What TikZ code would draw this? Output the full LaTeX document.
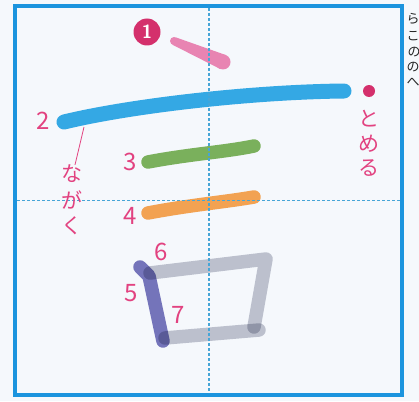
\documentclass[tikz,border=0pt]{standalone}
\usepackage{fontspec}
\newfontfamily\jp{Noto Sans CJK JP}
\definecolor{bg}{RGB}{245,248,252}
\definecolor{frame}{RGB}{28,148,222}
\definecolor{guide}{RGB}{70,165,215}
\definecolor{lab}{RGB}{226,66,128}
\definecolor{badge}{RGB}{212,48,108}
\definecolor{sone}{RGB}{232,132,178}
\definecolor{stwo}{RGB}{52,168,228}
\definecolor{sthree}{RGB}{122,176,92}
\definecolor{sfour}{RGB}{242,162,82}
\definecolor{sfive}{RGB}{116,116,186}
\definecolor{sgray}{RGB}{196,198,208}
\tikzset{
  brush/.style={line width=13.5pt,line cap=round,line join=round},
  numlab/.style={text=lab,font=\jp\fontsize{24}{24}\selectfont,inner sep=0pt},
  jplab/.style={text=lab,font=\jp\fontsize{21}{21}\selectfont,inner sep=0pt},
  frag/.style={text=black!85,font=\jp\fontsize{13}{13}\selectfont,inner sep=0pt},
  guideline/.style={guide,line width=1.2pt,dash pattern=on 3pt off 2pt},
}
\begin{document}
\begin{tikzpicture}[x=1pt,y=-1pt]
\useasboundingbox (0,0) rectangle (419,401);
\fill[bg] (0,0) rectangle (419,401);
% right-edge fragments of neighbouring text
\node[frag] (f1) at (413,19) {ら};
\node[frag] (f2) at (413,36) {こ};
\node[frag] (f3) at (414,52) {の};
\node[frag] (f4) at (413,67) {の};
\node[frag] (f5) at (413,82) {へ};
% frame
\draw[frame,line width=4pt] (15,6) rectangle (402,395);
% stroke 1 (tapered)
\fill[sone] (174,41) circle (4);
\fill[sone] (223,62) circle (7.5);
\fill[sone] (172.4,44.7) -- (175.6,37.3) -- (226.0,55.1) -- (220.0,68.9) -- cycle;
% stroke 2
\draw[brush,stwo,line width=15pt] (64,122) .. controls (130,106) and (250,92) .. (344,91);
% stroke 3
\draw[brush,sthree] (148,162) .. controls (190,154) and (225,152) .. (254,146);
% stroke 4
\draw[brush,sfour] (148,213) .. controls (190,205) and (225,202) .. (254,197);
% strokes 5,6,7
\draw[brush,sfive] (140,267) -- (149,276) -- (163,341);
\begin{scope}[blend mode=multiply]
\draw[brush,sgray] (150,273) -- (266,259) -- (254,327);
\draw[brush,sgray] (165,338) -- (259,330);
\end{scope}
% guide lines
\draw[guideline] (209,8) -- (209,393);
\draw[guideline] (17,200.5) -- (400,200.5);
% badge
\node[circle,fill=badge,minimum size=27pt,inner sep=0pt,text=white,font=\sffamily\bfseries\fontsize{19}{19}\selectfont] (b1) at (147,32) {1};
% numbers
\node[numlab] (n2) at (43,121) {2};
\node[numlab] (n3) at (130,162) {3};
\node[numlab] (n4) at (130,216) {4};
\node[numlab] (n5) at (131,293) {5};
\node[numlab] (n6) at (161,252) {6};
\node[numlab] (n7) at (178,315) {7};
% tomeru
\node[circle,fill=badge,minimum size=12pt,inner sep=0pt] (dot) at (369,91) {};
\node[jplab] (t1) at (369,119) {と};
\node[jplab] (t2) at (369,144) {め};
\node[jplab] (t3) at (369,168) {る};
% nagaku
\coordinate (lead) at (84,127);
\node[jplab] (g1) at (72,174) {な};
\node[jplab] (g2) at (72,200) {が};
\node[jplab] (g3) at (72,226) {く};
\draw[lab,line width=0.8pt] (lead) -- ([xshift=3pt]g1.north);
\end{tikzpicture}
\end{document}
